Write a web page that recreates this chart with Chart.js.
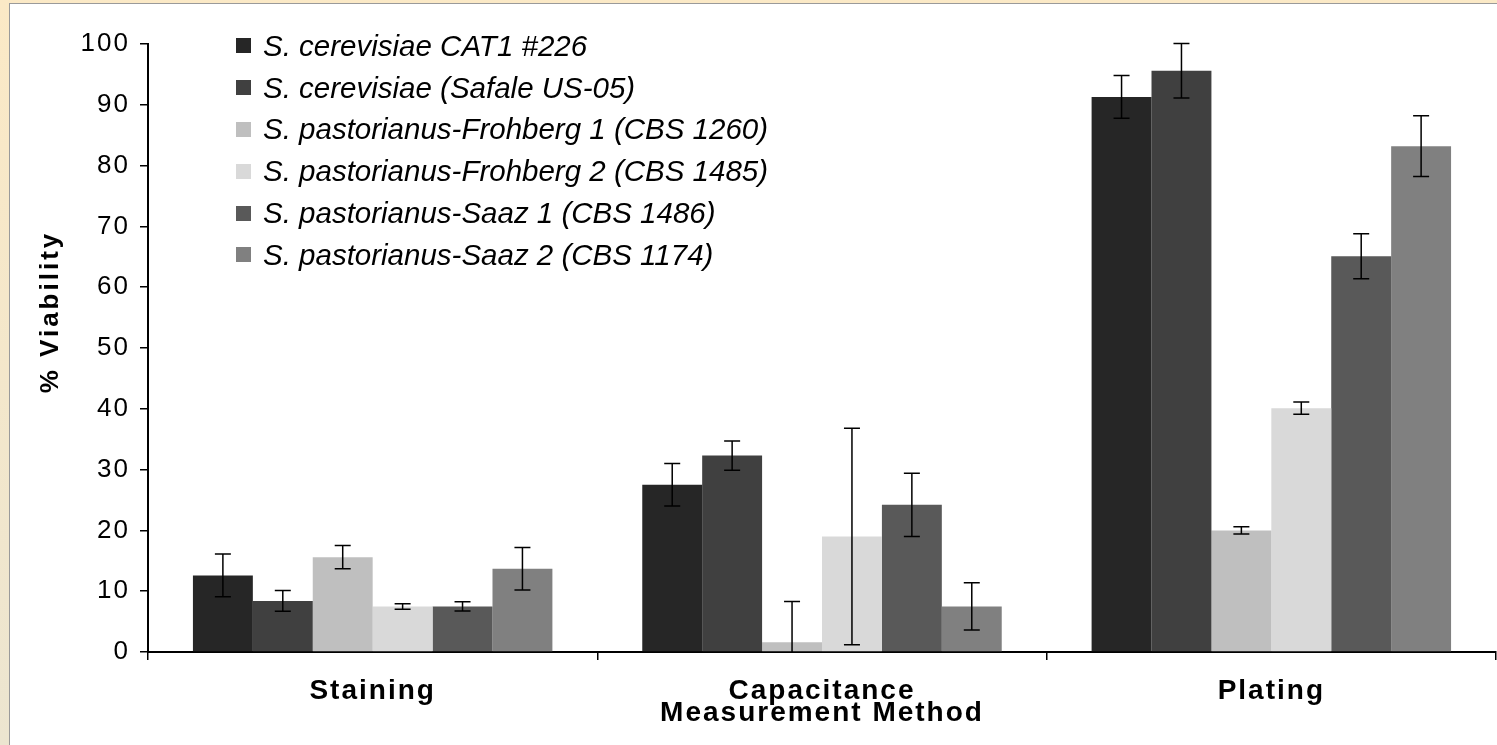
<!DOCTYPE html>
<html>
<head>
<meta charset="utf-8">
<script src="https://cdn.jsdelivr.net/npm/chart.js@4.4.1/dist/chart.umd.min.js"></script>
<style>
    html, body { margin: 0; padding: 0; }
    body {
        width: 1497px; height: 745px; overflow: hidden; position: relative;
        background: linear-gradient(#fbe9c6, #ece5d0);
    }
    #panel {
        position: absolute; left: 9px; top: 3px; width: 1488px; height: 742px;
        background: #fff; border-left: 1px solid #9a9a9a; border-top: 1px solid #9a9a9a;
    }
    #chart { position: absolute; left: 0; top: 0; }
    #legend {
        position: absolute; left: 226px; top: 21px;
        font-family: "Liberation Sans", Arial, sans-serif; font-style: italic;
        font-size: 29.5px; color: #000;
    }
    .row { height: 41.8px; display: flex; align-items: center; white-space: nowrap; }
    .box { width: 15px; height: 15px; margin-right: 12px; flex: none; }
</style>
</head>
<body>
<div id="panel">
    <canvas id="chart" width="1487" height="741"></canvas>
    <div id="legend"></div>
</div>
<script>
const categories = ["Staining", "Capacitance", "Plating"];
const seriesNames = [
    "S. cerevisiae CAT1 #226",
    "S. cerevisiae (Safale US-05)",
    "S. pastorianus-Frohberg 1 (CBS 1260)",
    "S. pastorianus-Frohberg 2 (CBS 1485)",
    "S. pastorianus-Saaz 1 (CBS 1486)",
    "S. pastorianus-Saaz 2 (CBS 1174)"
];
const seriesColors = ["#262626", "#404040", "#bfbfbf", "#d9d9d9", "#595959", "#808080"];
const yTitleText = "% Viability";
const xTitleText = "Measurement Method";

// mean % viability per method
const cat1Values = [12.6, 27.5, 91.3];
const safaleValues = [8.4, 32.3, 95.6];
const frohberg1Values = [15.6, 1.6, 20.0];
const frohberg2Values = [7.5, 19.0, 40.1];
const saaz1Values = [7.5, 24.2, 65.1];
const saaz2Values = [13.7, 7.5, 83.2];

// error bar half-lengths
const cat1Errors = [3.5, 3.5, 3.5];
const safaleErrors = [1.7, 2.4, 4.5];
const frohberg1Errors = [1.9, 6.7, 0.6];
const frohberg2Errors = [0.45, 17.8, 1.0];
const saaz1Errors = [0.75, 5.2, 3.7];
const saaz2Errors = [3.5, 3.9, 5.0];

const yTicks = [0, 10, 20, 30, 40, 50, 60, 70, 80, 90, 100];

const allValues = [cat1Values, safaleValues, frohberg1Values, frohberg2Values, saaz1Values, saaz2Values];
const allErrors = [cat1Errors, safaleErrors, frohberg1Errors, frohberg2Errors, saaz1Errors, saaz2Errors];

const datasets = seriesNames.map(function(name, i) {
    return {
        label: name,
        data: allValues[i],
        errors: allErrors[i],
        backgroundColor: seriesColors[i],
        borderWidth: 0,
        categoryPercentage: 0.8,
        barPercentage: 1.0
    };
});

// html legend
const legend = document.getElementById("legend");
seriesNames.forEach(function(name, i) {
    const row = document.createElement("div");
    row.className = "row";
    const box = document.createElement("span");
    box.className = "box";
    box.style.background = seriesColors[i];
    const txt = document.createElement("span");
    txt.textContent = name;
    row.appendChild(box);
    row.appendChild(txt);
    legend.appendChild(row);
});

const errorBars = {
    id: "errorBars",
    afterDatasetsDraw(chart) {
        const ctx = chart.ctx;
        const y = chart.scales.y;
        const area = chart.chartArea;
        ctx.save();
        ctx.beginPath();
        ctx.rect(area.left, area.top - 10, area.right - area.left, area.bottom - area.top + 10);
        ctx.clip();
        ctx.strokeStyle = "#000";
        ctx.lineWidth = 1.5;
        chart.data.datasets.forEach(function(ds, i) {
            const meta = chart.getDatasetMeta(i);
            meta.data.forEach(function(bar, j) {
                const v = ds.data[j], e = ds.errors[j];
                const top = y.getPixelForValue(v + e);
                const bot = y.getPixelForValue(v - e);
                ctx.beginPath();
                ctx.moveTo(bar.x, top); ctx.lineTo(bar.x, bot);
                ctx.moveTo(bar.x - 8, top); ctx.lineTo(bar.x + 8, top);
                ctx.moveTo(bar.x - 8, bot); ctx.lineTo(bar.x + 8, bot);
                ctx.stroke();
            });
        });
        ctx.restore();
    }
};

// y title sits a bit above the middle of the axis in the original
const yTitle = {
    id: "yTitle",
    afterDraw(chart) {
        const ctx = chart.ctx, a = chart.chartArea;
        ctx.save();
        ctx.letterSpacing = "3px";
        ctx.font = "bold 26px 'Liberation Sans', Arial, sans-serif";
        ctx.fillStyle = "#000";
        ctx.translate(41, (a.top + a.bottom) / 2 - 36);
        ctx.rotate(-Math.PI / 2);
        ctx.textAlign = "center";
        ctx.textBaseline = "middle";
        ctx.fillText(yTitleText, 0, 0);
        ctx.restore();
    }
};

const spacing = {
    id: "spacing",
    beforeDraw(chart) { chart.ctx.letterSpacing = "2px"; },
    afterDraw(chart) { chart.ctx.letterSpacing = "0px"; }
};

Chart.defaults.color = "#000";
Chart.defaults.font.family = "'Liberation Sans', Arial, sans-serif";

new Chart(document.getElementById("chart"), {
    type: "bar",
    data: { labels: categories, datasets: datasets },
    options: {
        responsive: false,
        animation: false,
        layout: { padding: { left: 0, top: 40, right: 1, bottom: 0 } },
        plugins: { legend: { display: false }, tooltip: { enabled: false } },
        scales: {
            x: {
                afterFit: function(s) { s.height = 93; },
                grid: { offset: true, drawOnChartArea: false, tickLength: 8, color: "#000", lineWidth: 1.5 },
                border: { color: "#000", width: 2 },
                ticks: { font: { size: 28, weight: "bold" }, padding: 14 },
                title: {
                    display: true, text: xTitleText,
                    font: { size: 28, weight: "bold" }, padding: { top: 0, bottom: 15 }
                }
            },
            y: {
                min: 0, max: 100,
                afterFit: function(s) { s.width = 138; },
                afterBuildTicks: function(s) { s.ticks = yTicks.map(function(v) { return { value: v }; }); },
                grid: { drawOnChartArea: false, tickLength: 8, color: "#000", lineWidth: 1.5 },
                border: { color: "#000", width: 2 },
                ticks: { font: { size: 26 }, padding: 10 },
                title: { display: false }
            }
        }
    },
    plugins: [errorBars, spacing, yTitle]
});
</script>
</body>
</html>
